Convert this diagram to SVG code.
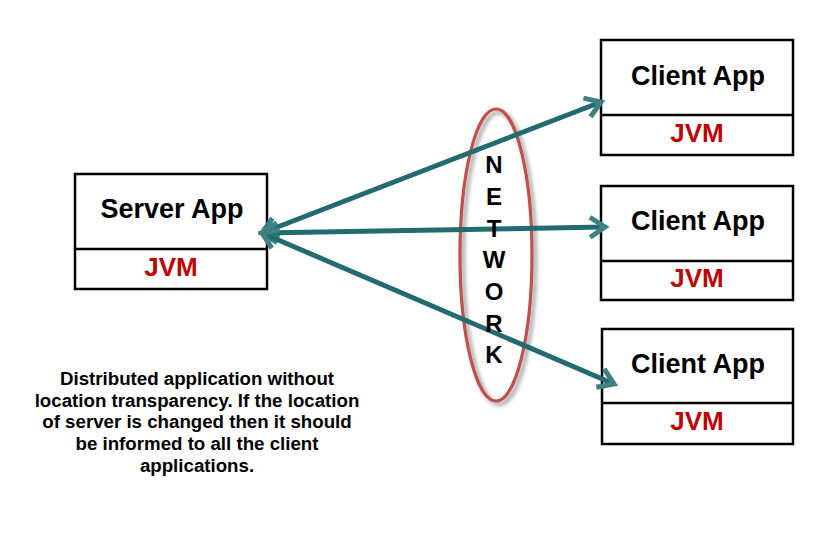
<svg xmlns="http://www.w3.org/2000/svg" width="815" height="544" viewBox="0 0 815 544">
<style>
.box{fill:#fff;stroke:#000;stroke-width:2.5}
.title{font-family:"Liberation Sans",Arial,sans-serif;font-weight:bold;font-size:27px;fill:#000;text-anchor:middle}
.jvm{font-family:"Liberation Sans",Arial,sans-serif;font-weight:bold;font-size:26px;fill:#c00000;text-anchor:middle}
.net{font-family:"Liberation Sans",Arial,sans-serif;font-weight:bold;font-size:24px;fill:#000;text-anchor:middle}
.cap{font-family:"Liberation Sans",Arial,sans-serif;font-weight:bold;font-size:18.7px;fill:#000;text-anchor:middle}
.conn{stroke:#246b6f;stroke-width:5;fill:none}
</style>
<defs>
<marker id="ah" markerUnits="userSpaceOnUse" viewBox="-20 -14 24 28" markerWidth="24" markerHeight="28" refX="0" refY="0" orient="auto-start-reverse">
<path d="M-15,-10 L0,0 L-15,10" fill="none" stroke="#3f8082" stroke-width="5" stroke-linejoin="miter"/>
</marker>
<filter id="sh" x="-30%" y="-10%" width="160%" height="120%">
<feGaussianBlur in="SourceAlpha" stdDeviation="2"/>
<feOffset dx="3" dy="3" result="b"/>
<feComponentTransfer><feFuncA type="linear" slope="0.45"/></feComponentTransfer>
<feMerge><feMergeNode/><feMergeNode in="SourceGraphic"/></feMerge>
</filter>
</defs>
<rect width="815" height="544" fill="#fff"/>
<g id="server">
<rect class="box" x="75" y="174" width="192" height="115"/>
<line x1="75" y1="249" x2="267" y2="249" stroke="#000" stroke-width="2.5"/>
<text class="title" x="172" y="218">Server App</text>
<text class="jvm" x="171" y="276">JVM</text>
</g>
<g id="client1">
<rect class="box" x="601" y="40" width="192" height="115"/>
<line x1="601" y1="115" x2="793" y2="115" stroke="#000" stroke-width="2.5"/>
<text class="title" x="698" y="85">Client App</text>
<text class="jvm" x="697" y="142">JVM</text>
</g>
<g id="client2">
<rect class="box" x="601" y="186" width="192" height="114"/>
<line x1="601" y1="261" x2="793" y2="261" stroke="#000" stroke-width="2.5"/>
<text class="title" x="698" y="230">Client App</text>
<text class="jvm" x="697" y="287">JVM</text>
</g>
<g id="client3">
<rect class="box" x="602" y="329" width="191" height="115"/>
<line x1="602" y1="403" x2="793" y2="403" stroke="#000" stroke-width="2.5"/>
<text class="title" x="698" y="373">Client App</text>
<text class="jvm" x="697" y="430">JVM</text>
</g>
<g id="network">
<ellipse cx="496" cy="255" rx="36" ry="146" fill="none" stroke="#c0504d" stroke-width="3.2" filter="url(#sh)"/>
</g>
<g id="connectors">
<line class="conn" x1="262" y1="233" x2="601" y2="102" marker-start="url(#ah)" marker-end="url(#ah)"/>
<line class="conn" x1="262" y1="233" x2="605" y2="227" marker-start="url(#ah)" marker-end="url(#ah)"/>
<line class="conn" x1="262" y1="233" x2="614" y2="384" marker-start="url(#ah)" marker-end="url(#ah)"/>
</g>
<g id="network-label">
<text class="net" x="494" y="173">N</text>
<text class="net" x="494" y="205">E</text>
<text class="net" x="494" y="237">T</text>
<text class="net" x="494" y="268">W</text>
<text class="net" x="494" y="300">O</text>
<text class="net" x="494" y="332">R</text>
<text class="net" x="494" y="363">K</text>
</g>
<g id="caption">
<text class="cap" x="197" y="385">Distributed application without</text>
<text class="cap" x="197" y="407">location transparency. If the location</text>
<text class="cap" x="197" y="428">of server is changed then it should</text>
<text class="cap" x="197" y="450">be informed to all the client</text>
<text class="cap" x="197" y="472">applications.</text>
</g>
</svg>
